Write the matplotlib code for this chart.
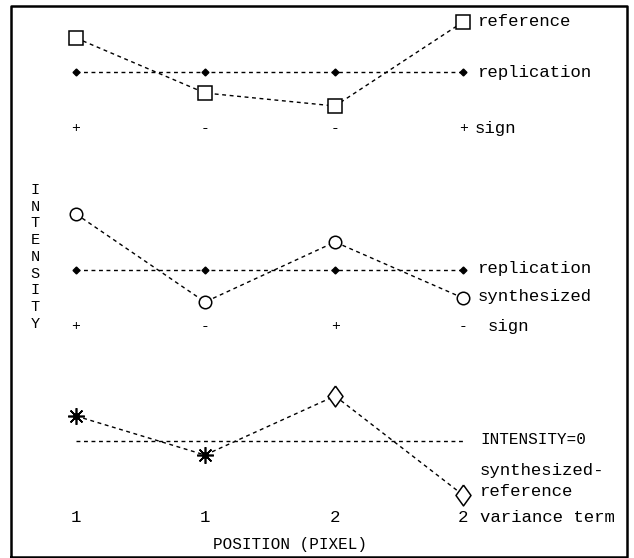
import matplotlib.pyplot as plt
import numpy as np

# pixel positions of the four samples (x) and vertical positions of each trace
pos_x = [76, 205, 335, 463]

reference = [38, 93, 106, 22]
replication_top = [72, 72, 72, 72]
sign_top = ['+', '-', '-', '+']

synthesized = [214, 302, 242, 298]
replication_mid = [270, 270, 270, 270]
sign_mid = ['+', '-', '+', '-']

diff_vals = [416, 455, 396, 495]
diff_zero = 441
variance_term = ['1', '1', '2', '2']

fnt = 'Liberation Mono'
fs = 12.5
dash = (0, (2.8, 2.6))
lw = 1.0

# tall open diamond, like the plotter's glyph
diamond = [(0, 1), (0.72, 0), (0, -1), (-0.72, 0), (0, 1)]

fig = plt.figure(figsize=(6.34, 5.58), dpi=100)
ax = fig.add_axes([0, 0, 1, 1])
ax.set_xlim(0, 634)
ax.set_ylim(558, 0)
ax.axis('off')

# frame
ax.plot([11, 11, 627, 627, 11], [557, 6, 6, 557, 557], color='black', lw=1.8)

# ---- top panel
ax.plot(pos_x, reference, color='black', lw=lw, ls=dash, marker='s', ms=10,
        mfc='white', mec='black', mew=1.1, zorder=3)
ax.plot(pos_x, replication_top, color='black', lw=lw, ls=dash, marker='D', ms=3.5,
        mfc='black', mec='black', zorder=3)
for x, s in zip(pos_x, sign_top):
    ax.text(x, 128, s, fontsize=10.5, family=fnt, ha='center', va='center')
ax.text(478, 22, 'reference', fontsize=fs, family=fnt, va='center')
ax.text(478, 72, 'replication', fontsize=fs, family=fnt, va='center')
ax.text(475, 128, 'sign', fontsize=fs, family=fnt, va='center')

# ---- middle panel
ax.plot(pos_x, synthesized, color='black', lw=lw, ls=dash, marker='o', ms=9,
        mfc='white', mec='black', mew=1.1, zorder=3)
ax.plot(pos_x, replication_mid, color='black', lw=lw, ls=dash, marker='D', ms=3.5,
        mfc='black', mec='black', zorder=3)
for x, s in zip(pos_x, sign_mid):
    ax.text(x, 326, s, fontsize=10.5, family=fnt, ha='center', va='center')
ax.text(478, 268, 'replication', fontsize=fs, family=fnt, va='center')
ax.text(478, 296, 'synthesized', fontsize=fs, family=fnt, va='center')
ax.text(488, 327, 'sign', fontsize=fs, family=fnt, va='center')

# ---- bottom panel
ax.plot(pos_x, diff_vals, color='black', lw=lw, ls=dash, zorder=2)
ax.plot([pos_x[0], pos_x[-1]], [diff_zero, diff_zero], color='black', lw=lw, ls=dash)
ax.plot(pos_x[:2], diff_vals[:2], ls='none', marker=(8, 2, 0), ms=12, mec='black',
        mew=1.2, zorder=3)
ax.plot(pos_x[:2], diff_vals[:2], ls='none', marker='o', ms=4, mfc='black',
        mec='black', zorder=3)
ax.plot(pos_x[2:], diff_vals[2:], ls='none', marker=diamond, ms=15, mfc='white',
        mec='black', mew=1.1, zorder=3)
ax.text(480, 440, 'INTENSITY=0', fontsize=11.5, family=fnt, va='center')
ax.text(480, 470, 'synthesized-', fontsize=fs, family=fnt, va='center')
ax.text(480, 492, 'reference', fontsize=fs, family=fnt, va='center')

for x, s in zip(pos_x, variance_term):
    ax.text(x, 518, s, fontsize=fs, family=fnt, ha='center', va='center')
ax.text(480, 518, 'variance term', fontsize=fs, family=fnt, va='center')
ax.text(290, 545, 'POSITION (PIXEL)', fontsize=11.5, family=fnt, ha='center',
        va='center')

# vertical axis label, one letter per line
for i, ch in enumerate('INTENSITY'):
    ax.text(35, 190 + i * 16.7, ch, fontsize=11, family=fnt, ha='center',
            va='center')

fig.savefig('out.png', dpi=100)
